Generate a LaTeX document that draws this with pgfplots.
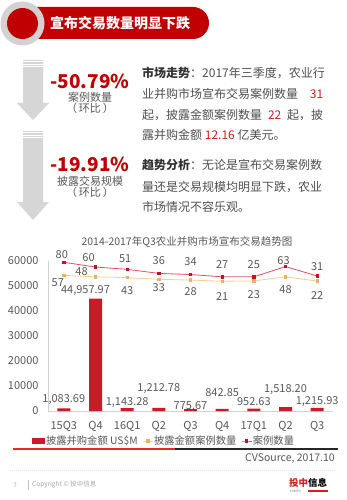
\documentclass[border=0pt]{standalone}
\usepackage{pgfplots}
\pgfplotsset{compat=1.18}
\usepackage{pgfplotstable}
\usepackage{fontspec}
\setmainfont{Noto Sans CJK SC}
\definecolor{hdrred}{RGB}{192,0,0}
\definecolor{txtgray}{RGB}{89,89,89}
\definecolor{bodygray}{RGB}{80,80,80}
\definecolor{barred}{RGB}{200,28,40}
\definecolor{linered}{RGB}{228,80,95}
\definecolor{mkred}{RGB}{200,16,32}
\definecolor{lineorange}{RGB}{248,204,150}
\definecolor{mkorange}{RGB}{240,176,96}
\definecolor{arrowgray}{RGB}{214,214,214}
\definecolor{ringgray}{RGB}{210,210,210}
\definecolor{numred}{RGB}{215,30,30}
\definecolor{rulered}{RGB}{235,40,40}

\pgfplotsset{smalllinelegend/.style={legend image code/.code={\draw[mark repeat=2,mark phase=2,##1] plot coordinates {(0pt,0pt) (5pt,0pt) (10pt,0pt)};}}}
\pgfplotsset{smallbarlegend/.style={legend image code/.code={\fill[barred] (0pt,-3pt) rectangle (13pt,3pt);}}}

\pgfplotstableread{
x amount dy dx
0 1083.69 9 0
1 44957.97 8 -10
2 1143.28 6 0
3 1212.78 19 0
4 775.67 3 0
5 842.85 16 0
6 952.63 7 0
7 1518.20 18 0
8 1215.93 6 0
}\amounttable

\pgfplotstableread{
x disc dy dx
0 57 -7 -6
1 48 5 -14
2 43 -13 0
3 33 -8 0
4 28 -11 0
5 21 -15 0
6 23 -14 0
7 48 -13 0
8 22 -14 0
}\disctable

\pgfplotstableread{
x cases dy dx
0 80 8 -2
1 60 9 -7
2 51 11 -2
3 36 13 0
4 34 13 0
5 27 12 0
6 25 12 0
7 63 6 -2
8 31 9 0
}\casetable

\begin{document}
\begin{tikzpicture}
\begin{scope}[x=1pt,y=-1pt]
\path[use as bounding box, fill=white] (0,0) rectangle (346,500);
% header
\fill[hdrred, rounded corners=16pt] (20,7) rectangle (209,39);
\fill[ringgray] (22.5,23.5) circle (22);
\fill[hdrred] (22.5,23.5) circle (15.5);
\node[anchor=west, inner sep=0pt, text=white, font=\fontsize{14}{16}\selectfont\bfseries] at (50,23) {宣布交易数量明显下跌};
% arrows
\fill[arrowgray] (23,60) -- (43,60) -- (43,103) -- (49,103) -- (33,120) -- (17,103) -- (23,103) -- cycle;
\fill[arrowgray] (23,131) -- (43,131) -- (43,202) -- (49,202) -- (33,220) -- (17,202) -- (23,202) -- cycle;
\foreach \yy in {61.5,64,66.5} {\draw[white, line width=0.7pt] (23,\yy) -- (43,\yy);}
\foreach \yy in {132.5,135,137.5} {\draw[white, line width=0.7pt] (23,\yy) -- (43,\yy);}
% left figures
\node[text=hdrred, font=\fontsize{19}{21}\selectfont\bfseries, inner sep=0pt] at (90,81) {-50.79\%};
\node[text=txtgray, font=\fontsize{11}{13}\selectfont, inner sep=0pt] at (90,97) {案例数量};
\node[text=txtgray, font=\fontsize{11}{13}\selectfont, inner sep=0pt] at (90,108) {（\,环比\,）};
\node[text=hdrred, font=\fontsize{19}{21}\selectfont\bfseries, inner sep=0pt] at (90,164) {-19.91\%};
\node[text=txtgray, font=\fontsize{11}{13}\selectfont, inner sep=0pt] at (90,181) {披露交易规模};
\node[text=txtgray, font=\fontsize{11}{13}\selectfont, inner sep=0pt] at (90,192) {（\,环比\,）};
% paragraphs
\begin{scope}[every node/.style={anchor=west, inner sep=0pt, text=bodygray, font=\fontsize{12}{14}\selectfont}]
\node at (142,73) {{\color{black!80}\bfseries 市场走势}：2017年三季度，农业行};
\node at (142,94) {\makebox[181pt][s]{业并购市场宣布交易案例数量\hfill{\color{numred}31}}};
\node at (142,115) {\makebox[181pt][s]{起，披露金额案例数量\hfill{\color{numred}22}\hfill 起，披}};
\node at (142,135) {露并购金额 {\color{numred}12.16} 亿美元。};
\node at (142,165) {{\color{black!80}\bfseries 趋势分析}：无论是宣布交易案例数};
\node at (142,187) {量还是交易规模均明显下跌，农业};
\node at (142,207) {市场情况不容乐观。};
\end{scope}
% chart title
\node[text=txtgray, font=\fontsize{10.5}{12}\selectfont, inner sep=0pt] at (187,242) {2014-2017年Q3农业并购市场宣布交易趋势图};
% rules and source
\draw[rulered, line width=1.4pt] (13,449) -- (175,449);
\draw[black!85, line width=1.4pt] (175,449) -- (338,449);
\node[anchor=east, text=txtgray, font=\fontsize{10.5}{12}\selectfont, inner sep=0pt] at (335,459) {CVSource, 2017.10};
\draw[red!15, dash pattern=on 1pt off 1pt, line width=0.5pt] (10,470) -- (336,470);
% footer
\node[text=black!35, font=\fontsize{6}{7}\selectfont, inner sep=0pt] at (15,485) {7};
\draw[black!25, line width=0.4pt] (28,480) -- (28,490);
\node[anchor=west, text=black!35, font=\fontsize{6.5}{7}\selectfont, inner sep=0pt] at (32,485) {Copyright © 投中信息};
\node[anchor=west, inner sep=0pt, font=\fontsize{9.5}{10}\selectfont\bfseries] at (289,483) {{\color{numred}投中}{\color{black}信息}};
\node[anchor=west, inner sep=0pt, text=black!60, font=\fontsize{3}{3}\selectfont] at (290,491) {CVINFO};
\fill[numred] (308,490) rectangle (328,492);
\end{scope}

% main axis: bars
\begin{axis}[
  at={(48pt,-411pt)}, anchor=south west, scale only axis,
  width=285pt, height=150pt,
  xmin=-0.5, xmax=8.5, ymin=0, ymax=60000,
  axis x line*=bottom, axis y line*=left,
  axis line style={draw=black!18, line width=0.6pt},
  xtick=data,
  xticklabels={15Q3,Q4,16Q1,Q2,Q3,Q4,17Q1,Q2,Q3},
  ytick={0,10000,20000,30000,40000,50000,60000},
  scaled y ticks=false,
  major tick length=0pt,
  /pgf/number format/assume math mode=true,
  y tick label style={/pgf/number format/1000 sep={}, xshift=-6pt},
  x tick label style={yshift=-7pt},
  tick label style={font=\fontsize{11}{13}\selectfont, text=txtgray},
  clip=false,
  legend columns=3,
  legend style={at={(-0.056,-0.2)}, anchor=west, draw=none, fill=none,
    font=\fontsize{10.3}{12}\selectfont, text=txtgray, inner sep=0pt,
    /tikz/every even column/.append style={column sep=4pt},
    nodes={inner sep=0.8pt}},
]
\addplot[ybar, bar width=13pt, fill=barred, draw=none,
  nodes near coords={\pgfmathprintnumber[fixed,fixed zerofill,precision=2,1000 sep={,},assume math mode=true]{\pgfplotspointmeta}},
  point meta=\thisrow{amount},
  visualization depends on={\thisrow{dy} \as \labdy},
  visualization depends on={\thisrow{dx} \as \labdx},
  every node near coord/.append style={anchor=center, yshift=\labdy pt, xshift=\labdx pt, font=\fontsize{11}{13}\selectfont, text=txtgray, inner sep=0pt},
  smallbarlegend
] table[x=x, y=amount] {\amounttable};
\addlegendentry{披露并购金额 US\$M}
\addlegendimage{lineorange, line width=0.8pt, mark=square*, mark size=1.2pt, mark options={fill=mkorange, draw=mkorange}, smalllinelegend}
\addlegendentry{披露金额案例数量}
\addlegendimage{linered, line width=0.8pt, mark=square*, mark size=1.2pt, mark options={fill=mkred, draw=mkred}, smalllinelegend}
\addlegendentry{案例数量}
\end{axis}

% secondary axis: stacked lines
\begin{axis}[
  at={(48pt,-411pt)}, anchor=south west, scale only axis,
  width=285pt, height=150pt,
  xmin=-0.5, xmax=8.5, ymin=-775, ymax=145,
  axis lines=none, clip=false,
  stack plots=y,
  nodes near coords,
  visualization depends on={\thisrow{dy} \as \labdy},
  visualization depends on={\thisrow{dx} \as \labdx},
  every node near coord/.append style={anchor=center, yshift=\labdy pt, xshift=\labdx pt, font=\fontsize{11}{13}\selectfont, text=txtgray, inner sep=0pt},
  /pgf/number format/assume math mode=true,
]
\addplot[lineorange, line width=0.8pt, mark=square*, mark size=1.2pt, mark options={fill=mkorange, draw=mkorange},
  point meta=\thisrow{disc}] table[x=x, y=disc] {\disctable};
\addplot[linered, line width=0.8pt, mark=square*, mark size=1.2pt, mark options={fill=mkred, draw=mkred},
  point meta=\thisrow{cases}] table[x=x, y=cases] {\casetable};
\end{axis}
\end{tikzpicture}
\end{document}
